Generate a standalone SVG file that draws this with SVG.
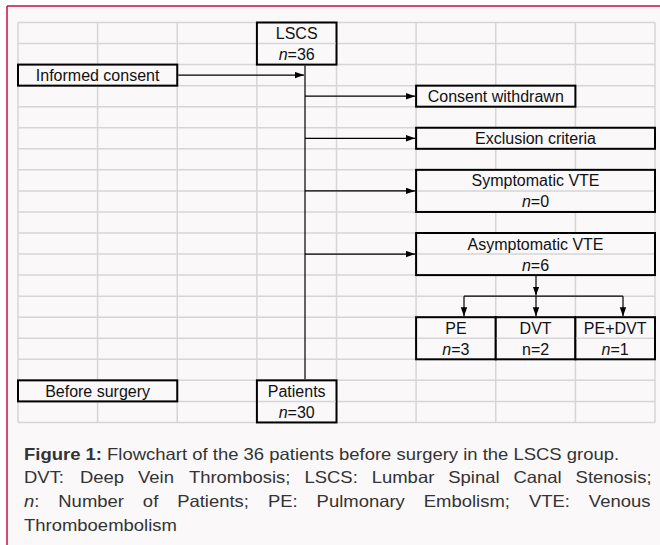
<svg xmlns="http://www.w3.org/2000/svg" width="660" height="545" viewBox="0 0 660 545">
<defs>
<style>
.grid{stroke:#d6d6d6;stroke-width:1.5;fill:none}
.box{fill:#faf8f9;stroke:#000;stroke-width:2}
.inner{stroke:#d6d6d6;stroke-width:1.5}
.t{font-family:"Liberation Sans",Arial,sans-serif;font-size:16px;fill:#111;text-anchor:middle}
.con{stroke:#000;stroke-width:1.2;fill:none}
.arr{marker-end:url(#ah)}
.cap{font-family:"Liberation Sans",Arial,sans-serif;font-size:16.5px;fill:#333}
</style>
<marker id="ah" markerUnits="userSpaceOnUse" markerWidth="10" markerHeight="8" refX="9" refY="3.2" orient="auto">
<path d="M0,0 L9,3.2 L0,6.4 z" fill="#000"/>
</marker>
</defs>
<rect x="0" y="0" width="660" height="545" fill="#ffffff"/>
<rect x="7" y="6" width="653" height="539" fill="#faf8f9"/>
<path d="M7,6 H660 M7,6 V545" stroke="#c8103e" stroke-width="1.5" fill="none"/>

<g id="grid" class="grid">
<path d="M18,22.5H655 M18,43.55H655 M18,64.6H655 M18,85.65H655 M18,106.7H655 M18,127.75H655 M18,148.8H655 M18,169.85H655 M18,190.9H655 M18,211.95H655 M18,233H655 M18,254.05H655 M18,275.1H655 M18,296.15H655 M18,317.2H655 M18,338.25H655 M18,359.3H655 M18,380.35H655 M18,401.4H655 M18,422.45H655"/>
<path d="M18,22.5V422.45 M97.6,22.5V422.45 M177.25,22.5V422.45 M256.9,22.5V422.45 M336.5,22.5V422.45 M416.1,22.5V422.45 M495.75,22.5V422.45 M575.4,22.5V422.45 M655,22.5V422.45"/>
</g>

<g id="connectors">
<path class="con arr" d="M178.25,75.1 H304"/>
<path class="con" d="M305,65.6 V379.35"/>
<path class="con arr" d="M305,96.2 H415"/>
<path class="con arr" d="M305,138.3 H415"/>
<path class="con arr" d="M305,190.9 H415"/>
<path class="con arr" d="M305,254.05 H415"/>
<path class="con arr" d="M536,276.1 V295.6"/>
<path class="con" d="M464,296.15 H623"/>
<path class="con arr" d="M464,296.15 V316.2"/>
<path class="con arr" d="M536,296.15 V316.2"/>
<path class="con arr" d="M623,296.15 V316.2"/>
</g>

<g id="lscs">
<rect class="box" x="256.9" y="22.5" width="79.6" height="42.1"/>
<line class="inner" x1="257.9" y1="43.55" x2="335.5" y2="43.55"/>
<text class="t" x="296.7" y="39">LSCS</text>
<text class="t" x="296.7" y="60"><tspan font-style="italic">n</tspan>=36</text>
</g>

<g id="informed-consent">
<rect class="box" x="18" y="64.6" width="159.25" height="21.05"/>
<text class="t" x="97.6" y="81.1">Informed consent</text>
</g>

<g id="consent-withdrawn">
<rect class="box" x="416.1" y="85.65" width="159.3" height="21.05"/>
<text class="t" x="495.75" y="102.15">Consent withdrawn</text>
</g>

<g id="exclusion-criteria">
<rect class="box" x="416.1" y="127.75" width="238.9" height="21.05"/>
<text class="t" x="535.5" y="144.25">Exclusion criteria</text>
</g>

<g id="symptomatic-vte">
<rect class="box" x="416.1" y="169.85" width="238.9" height="42.1"/>
<line class="inner" x1="417.1" y1="190.9" x2="654" y2="190.9"/>
<text class="t" x="535.5" y="186.35">Symptomatic VTE</text>
<text class="t" x="535.5" y="207.4"><tspan font-style="italic">n</tspan>=0</text>
</g>

<g id="asymptomatic-vte">
<rect class="box" x="416.1" y="233" width="238.9" height="42.1"/>
<line class="inner" x1="417.1" y1="254.05" x2="654" y2="254.05"/>
<text class="t" x="535.5" y="249.5">Asymptomatic VTE</text>
<text class="t" x="535.5" y="270.55"><tspan font-style="italic">n</tspan>=6</text>
</g>

<g id="pe">
<rect class="box" x="416.1" y="317.2" width="79.65" height="42.1"/>
<line class="inner" x1="417.1" y1="338.25" x2="494.75" y2="338.25"/>
<text class="t" x="455.9" y="333.7">PE</text>
<text class="t" x="455.9" y="354.75"><tspan font-style="italic">n</tspan>=3</text>
</g>

<g id="dvt">
<rect class="box" x="495.75" y="317.2" width="79.65" height="42.1"/>
<line class="inner" x1="496.75" y1="338.25" x2="574.4" y2="338.25"/>
<text class="t" x="535.6" y="333.7">DVT</text>
<text class="t" x="535.6" y="354.75">n=2</text>
</g>

<g id="pe-dvt">
<rect class="box" x="575.4" y="317.2" width="79.6" height="42.1"/>
<line class="inner" x1="576.4" y1="338.25" x2="654" y2="338.25"/>
<text class="t" x="615.2" y="333.7">PE+DVT</text>
<text class="t" x="615.2" y="354.75"><tspan font-style="italic">n</tspan>=1</text>
</g>

<g id="before-surgery">
<rect class="box" x="18" y="380.35" width="159.25" height="21.05"/>
<text class="t" x="97.6" y="396.85">Before surgery</text>
</g>

<g id="patients">
<rect class="box" x="256.9" y="380.35" width="79.6" height="42.1"/>
<line class="inner" x1="257.9" y1="401.4" x2="335.5" y2="401.4"/>
<text class="t" x="296.7" y="396.85">Patients</text>
<text class="t" x="296.7" y="417.9"><tspan font-style="italic">n</tspan>=30</text>
</g>

<g id="caption" transform="matrix(1.12 0 0 1 0 0)" class="cap">
<text x="21.43" y="460"><tspan font-weight="bold">Figure 1:</tspan> Flowchart of the 36 patients before surgery in the LSCS group.</text>
<text y="483.5"><tspan x="21.43">DVT:</tspan><tspan x="71.41">Deep</tspan><tspan x="123.24">Vein</tspan><tspan x="168.65">Thrombosis;</tspan><tspan x="271.81">LSCS:</tspan><tspan x="331.89">Lumbar</tspan><tspan x="400.22">Spinal</tspan><tspan x="458.46">Canal</tspan><tspan x="513.95">Stenosis;</tspan></text>
<text y="507.5"><tspan x="21.43" font-style="italic">n</tspan><tspan>:</tspan><tspan x="52.04">Number</tspan><tspan x="127.56">of</tspan><tspan x="158.17">Patients;</tspan><tspan x="239.22">PE:</tspan><tspan x="282.67">Pulmonary</tspan><tspan x="378.37">Embolism;</tspan><tspan x="472.23">VTE:</tspan><tspan x="525.76">Venous</tspan></text>
<text x="21.43" y="531.5">Thromboembolism</text>
</g>
</svg>
